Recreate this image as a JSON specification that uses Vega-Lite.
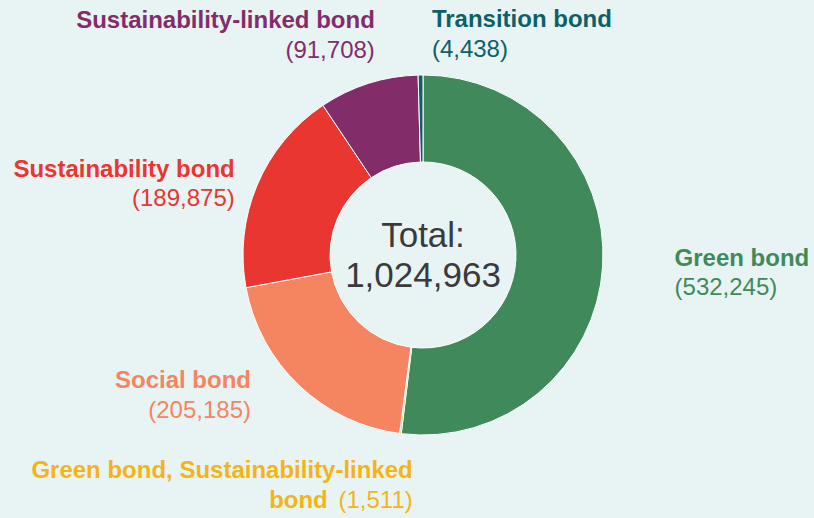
{
  "$schema": "https://vega.github.io/schema/vega-lite/v6.json",
  "description": "Donut chart of bond issuance by type, with total in the middle",
  "width": 782,
  "height": 510,
  "autosize": {"type": "none"},
  "padding": {"left": 32, "top": 0, "right": 0, "bottom": 8},
  "background": "#e8f4f3",
  "data": {
    "values": [
      {"category": "Green bond", "value": 532245},
      {"category": "Green bond, Sustainability-linked bond", "value": 1511},
      {"category": "Social bond", "value": 205185},
      {"category": "Sustainability bond", "value": 189875},
      {"category": "Sustainability-linked bond", "value": 91708},
      {"category": "Transition bond", "value": 4438}
    ]
  },
  "transform": [
    {"window": [{"op": "row_number", "as": "n"}]},
    {"calculate": "'(' + format(datum.value, ',') + ')'", "as": "amount"}
  ],
  "layer": [
    {
      "encoding": {
        "theta": {"field": "value", "type": "quantitative", "stack": true},
        "order": {"field": "n", "type": "quantitative"},
        "color": {
          "field": "category",
          "type": "nominal",
          "legend": null,
          "scale": {
            "domain": [
              "Green bond",
              "Green bond, Sustainability-linked bond",
              "Social bond",
              "Sustainability bond",
              "Sustainability-linked bond",
              "Transition bond"
            ],
            "range": ["#40895b", "#f5b416", "#f58560", "#e93630", "#832c6a", "#0e6068"]
          }
        }
      },
      "layer": [
        {"mark": {"type": "arc", "outerRadius": 180, "innerRadius": 93, "stroke": "#ffffff", "strokeWidth": 1}},

        {"mark": {"type": "text", "radius": 252, "align": "left", "dx": 0, "dy": -4, "fontSize": 24, "fontWeight": "bold"},
         "encoding": {"text": {"condition": {"test": "datum.category === 'Green bond'", "field": "category"}, "value": ""}}},
        {"mark": {"type": "text", "radius": 252, "align": "left", "dx": 0, "dy": 25, "fontSize": 24},
         "encoding": {"text": {"condition": {"test": "datum.category === 'Green bond'", "field": "amount"}, "value": ""}}},

        {"mark": {"type": "text", "radius": 228, "align": "left", "dx": 12, "dy": 0, "fontSize": 24, "fontWeight": "bold"},
         "encoding": {"text": {"condition": {"test": "datum.category === 'Transition bond'", "field": "category"}, "value": ""}}},
        {"mark": {"type": "text", "radius": 228, "align": "left", "dx": 12, "dy": 30, "fontSize": 24},
         "encoding": {"text": {"condition": {"test": "datum.category === 'Transition bond'", "field": "amount"}, "value": ""}}},

        {"mark": {"type": "text", "radius": 228, "align": "right", "dx": 21, "dy": -10, "fontSize": 24, "fontWeight": "bold"},
         "encoding": {"text": {"condition": {"test": "datum.category === 'Sustainability-linked bond'", "field": "category"}, "value": ""}}},
        {"mark": {"type": "text", "radius": 228, "align": "right", "dx": 21, "dy": 20, "fontSize": 24},
         "encoding": {"text": {"condition": {"test": "datum.category === 'Sustainability-linked bond'", "field": "amount"}, "value": ""}}},

        {"mark": {"type": "text", "radius": 200, "align": "right", "dx": -4, "dy": 0, "fontSize": 24, "fontWeight": "bold"},
         "encoding": {"text": {"condition": {"test": "datum.category === 'Sustainability bond'", "field": "category"}, "value": ""}}},
        {"mark": {"type": "text", "radius": 200, "align": "right", "dx": -4, "dy": 29, "fontSize": 24},
         "encoding": {"text": {"condition": {"test": "datum.category === 'Sustainability bond'", "field": "amount"}, "value": ""}}},

        {"mark": {"type": "text", "radius": 215, "align": "right", "dx": -24, "dy": -23, "fontSize": 24, "fontWeight": "bold"},
         "encoding": {"text": {"condition": {"test": "datum.category === 'Social bond'", "field": "category"}, "value": ""}}},
        {"mark": {"type": "text", "radius": 215, "align": "right", "dx": -24, "dy": 7, "fontSize": 24},
         "encoding": {"text": {"condition": {"test": "datum.category === 'Social bond'", "field": "amount"}, "value": ""}}},

        {"mark": {"type": "text", "radius": 225, "align": "right", "dx": 18, "dy": 0, "fontSize": 24, "fontWeight": "bold"},
         "encoding": {"text": {"condition": {"test": "datum.category === 'Green bond, Sustainability-linked bond'", "value": "Green bond, Sustainability-linked"}, "value": ""}}},
        {"mark": {"type": "text", "radius": 225, "align": "right", "dx": -67, "dy": 30, "fontSize": 24, "fontWeight": "bold"},
         "encoding": {"text": {"condition": {"test": "datum.category === 'Green bond, Sustainability-linked bond'", "value": "bond"}, "value": ""}}},
        {"mark": {"type": "text", "radius": 225, "align": "right", "dx": 18, "dy": 30, "fontSize": 24},
         "encoding": {"text": {"condition": {"test": "datum.category === 'Green bond, Sustainability-linked bond'", "field": "amount"}, "value": ""}}}
      ]
    },
    {
      "transform": [{"aggregate": [{"op": "count", "as": "k"}]}],
      "mark": {"type": "text", "text": ["Total:", "1,024,963"], "baseline": "alphabetic", "lineHeight": 40, "dy": -8, "fontSize": 35, "color": "#3a3a3c"},
      "encoding": {}
    }
  ],
  "config": {
    "font": "Liberation Sans",
    "view": {"stroke": null},
    "text": {"baseline": "alphabetic"}
  }
}
